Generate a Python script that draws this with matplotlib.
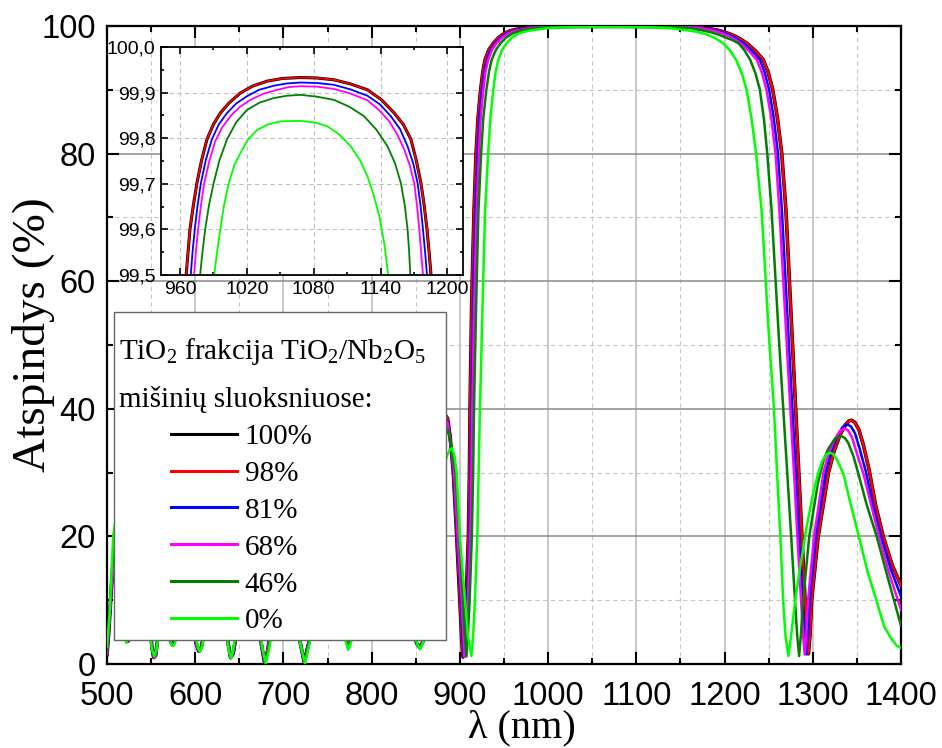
import numpy as np
import matplotlib.pyplot as plt
from matplotlib.patches import Rectangle
from matplotlib.ticker import MultipleLocator, FuncFormatter

plt.rcParams['mathtext.fontset'] = 'custom'
plt.rcParams['mathtext.rm'] = 'Liberation Serif'
plt.rcParams['mathtext.it'] = 'Liberation Serif:italic'

SANS = ['Liberation Sans', 'DejaVu Sans']
SERIF = ['Liberation Serif', 'DejaVu Serif']

# ---- data: (wavelength nm, reflectance %) ----
p_98 = [(500, 1.5), (502, 5), (505, 12), (509, 18), (514, 14), (518, 7), (521, 4.2), (524, 3.6), (528, 6),
        (535, 14), (542, 15), (548, 7), (551, 2.5), (553, 1.0), (555, 1.3), (558, 4.5), (563, 9), (568, 6),
        (572, 3.6), (574, 3.0), (576, 3.4), (579, 6), (585, 14), (592, 16), (598, 7), (601, 3.2), (604, 2.0),
        (607, 2.6), (611, 6), (618, 16), (626, 17), (633, 8), (637, 3.5), (640, 1.0), (643, 1.6), (647, 5),
        (655, 15), (664, 19), (671, 8), (675, 3), (678.5, 0.3), (682, 2), (686, 6), (695, 17), (704, 22),
        (713, 10), (718, 4), (723.5, 0.3), (729, 3.5), (734, 8), (744, 20), (755, 24), (764, 12), (769, 5),
        (773, 3.0), (777, 4), (782, 8), (795, 22), (815, 30), (835, 20), (846, 6), (851, 3.2), (854.5, 2.6),
        (858, 3.5), (863, 9), (870, 22), (876, 34), (881, 39.5), (886, 38.5), (889, 35.5), (892.6, 29.9),
        (896.4, 19.9), (900, 9.9), (902, 4.0), (903.5, 1.1), (905, 3.0), (907, 9.9), (909.6, 19.9),
        (910.8, 29.9), (911.5, 40),
        (913.4, 57), (916, 71), (918.3, 80), (920.5, 85.5), (923.5, 90), (926, 92.8), (928.5, 94.7),
        (933, 96.3), (938, 97.3), (944, 98.2), (950, 98.8), (957, 99.25), (965.5, 99.5), (967.2, 99.55),
        (969, 99.6), (972, 99.652), (975.2, 99.701), (979.5, 99.752), (984.2, 99.797), (990, 99.83),
        (996.2, 99.855), (1004, 99.877), (1014.2, 99.899), (1025, 99.914), (1038.2, 99.925), (1052, 99.931),
        (1068.2, 99.933), (1083, 99.932), (1098.2, 99.928), (1113, 99.919), (1128.3, 99.906), (1141, 99.884),
        (1152.3, 99.855), (1160.5, 99.83), (1167.3, 99.797), (1172, 99.752), (1176.3, 99.701),
        (1179.2, 99.652), (1181.7, 99.6), (1183.6, 99.55), (1185.3, 99.5), (1192, 99.35), (1198.3, 99.1),
        (1205, 98.8), (1212, 98.4), (1218.5, 97.9), (1225.1, 97.3), (1235, 96.1), (1243.9, 94.7),
        (1249.5, 92.7), (1254.6, 90), (1260, 85.5), (1264.8, 80), (1269.6, 71),
        (1277, 50), (1280.5, 40), (1284, 30), (1287.5, 20), (1291.2, 10), (1293.3, 4.5), (1295, 1.6),
        (1296.8, 4.5), (1298.6, 9.9), (1306, 19.9), (1317.6, 29.9), (1324, 33.3), (1330.8, 35.9),
        (1337, 37.5), (1341, 38.1), (1344, 38.2), (1347.5, 37.9), (1352, 36.8), (1357, 34.5),
        (1363.7, 30.5), (1371, 25), (1380, 19.9), (1390, 15.5), (1400, 12.3)]

# the 100 % curve lies right under the 98 % one
p_100 = p_98

p_81 = [(500, 1.6), (502, 5), (505, 12), (509, 18), (514, 14), (518, 7), (521, 4.2), (524, 3.6), (528, 6),
        (535, 14), (542, 15), (548, 7), (551, 2.5), (553.2, 1.1), (555.5, 1.4), (558, 4.5), (563, 9),
        (568, 6), (572, 3.6), (574.2, 3.0), (576.5, 3.4), (579, 6), (585, 14), (592, 16), (598, 7),
        (601, 3.2), (604.3, 2.0), (607, 2.6), (611, 6), (618, 16), (626, 17), (633, 8), (637, 3.5),
        (640.2, 1.0), (643, 1.6), (647, 5), (655, 15), (664, 19), (671, 8), (675, 3), (678.8, 0.3), (682, 2),
        (686, 6), (695, 17), (704, 22), (713, 10), (718, 4), (723.7, 0.3), (729, 3.5), (734, 8), (744, 20),
        (755, 24), (764, 12), (769, 5), (773.2, 3.1), (777, 4), (782, 8), (795, 22), (815, 30), (835, 20),
        (846, 6), (851, 3.2), (854.6, 2.6), (858, 3.5), (863, 9), (870, 22), (876, 33.5), (881, 39),
        (886, 38), (889, 35), (893, 29.9), (897, 19.9), (901, 9.9), (903, 4.0), (904.5, 1.1), (906, 3.5),
        (908, 9.9), (910.8, 19.9), (912, 29.9), (913, 40),
        (915, 57), (917.5, 71), (920, 80), (922, 85.5), (925, 90), (927.5, 92.8), (930.5, 94.7), (935, 96.3),
        (940, 97.3), (946, 98.2), (953, 98.85), (961, 99.25), (969.7, 99.5), (971.3, 99.55), (973.3, 99.6),
        (975.8, 99.652), (978.7, 99.7), (983.2, 99.752), (988.6, 99.797), (994.8, 99.83), (1002.2, 99.855),
        (1010.5, 99.876), (1020.2, 99.892), (1031, 99.906), (1044.2, 99.915), (1056, 99.92), (1068.2, 99.922),
        (1083, 99.921), (1098.2, 99.917), (1113, 99.907), (1128.3, 99.893), (1139.5, 99.874),
        (1149.3, 99.848), (1157.5, 99.82), (1164.3, 99.782), (1169.3, 99.745), (1173.3, 99.701),
        (1175.9, 99.652), (1178.1, 99.6), (1180, 99.55), (1181.7, 99.5), (1188.5, 99.35), (1195, 99.1),
        (1201.5, 98.8), (1208.5, 98.4), (1215, 97.9), (1221.5, 97.3), (1231, 96.1), (1240, 94.7),
        (1245.5, 92.7), (1250.5, 90), (1255.8, 85.5), (1260.5, 80), (1265, 71),
        (1273, 50), (1276.8, 40), (1280.8, 30), (1284.5, 20), (1288.5, 10), (1290.8, 4.5), (1292.7, 1.5),
        (1294.5, 4.5), (1296.5, 10), (1303.5, 20), (1314.5, 30), (1321, 33.3), (1327, 35.5), (1333.5, 37.1),
        (1337, 37.4), (1340, 37.5), (1343.5, 37.2), (1348, 36.1), (1353, 33.8), (1360.4, 30), (1368, 25),
        (1377.4, 20), (1388, 15), (1400, 10.6)]

p_68 = [(500, 1.7), (502, 5), (505, 12), (509, 18), (514, 14), (518, 7), (521, 4.2), (524, 3.6), (528, 6),
        (535, 14), (542, 15), (548, 7), (551, 2.4), (553.3, 1.0), (555.5, 1.4), (558, 4.5), (563, 9),
        (568, 6), (572, 3.5), (574.3, 3.0), (576.5, 3.4), (579, 6), (585, 14), (592, 16), (598, 7),
        (601, 3.1), (604.5, 2.0), (607, 2.6), (611, 6), (618, 16), (626, 17), (633, 8), (637, 3.4),
        (640.3, 1.0), (643, 1.6), (647, 5), (655, 15), (664, 19), (671, 8), (675, 3), (679, 0.3), (682, 2),
        (686, 6), (695, 17), (704, 22), (713, 10), (718, 4), (723.8, 0.3), (729, 3.5), (734, 8), (744, 20),
        (755, 24), (764, 12), (769, 5), (773.3, 3.0), (777, 4), (782, 8), (795, 22), (815, 30), (835, 20),
        (846, 6), (851, 3.1), (854.7, 2.6), (858, 3.5), (863, 9), (870, 21), (876, 33), (881, 38.5),
        (886, 37.8), (889, 35), (893.5, 29.9), (897.5, 19.9), (902, 9.9), (904, 4.0), (905.5, 1.1),
        (907, 3.5), (909, 9.9), (911.8, 19.9), (913, 29.9), (914, 40),
        (916.3, 57), (919, 71), (921.5, 80), (923.5, 85.5), (926.5, 90), (929, 92.8), (932, 94.7),
        (936.5, 96.3), (941.5, 97.3), (948, 98.2), (955, 98.85), (963.5, 99.25), (972.7, 99.5),
        (974.3, 99.55), (976.3, 99.6), (978.8, 99.652), (981.7, 99.7), (986.2, 99.748), (991.6, 99.793),
        (997.8, 99.823), (1005.2, 99.848), (1013.5, 99.868), (1023.2, 99.884), (1034.5, 99.897),
        (1047.2, 99.906), (1057.5, 99.912), (1068.2, 99.914), (1083, 99.913), (1098.2, 99.908),
        (1113, 99.898), (1128.3, 99.883), (1138.5, 99.862), (1147.8, 99.837), (1155, 99.808),
        (1161.3, 99.775), (1166.3, 99.74), (1170.3, 99.701), (1172.7, 99.652), (1174.8, 99.6),
        (1176.5, 99.55), (1178.1, 99.5), (1185, 99.35), (1191.5, 99.1), (1198, 98.8), (1205, 98.4),
        (1211.5, 97.9), (1218, 97.3), (1227.5, 96.1), (1236.5, 94.7), (1242.3, 92.7), (1247.5, 90),
        (1253, 85.5), (1257.8, 80), (1262.2, 71),
        (1270.5, 50), (1274.5, 40), (1278.7, 30), (1282.5, 20), (1286.7, 10), (1289, 4.5), (1290.8, 1.5),
        (1292.6, 4.5), (1294.6, 10), (1301.5, 20), (1312, 30), (1318, 33), (1324, 35), (1330.5, 36.5),
        (1334, 36.8), (1336.6, 36.9), (1340, 36.6), (1344.5, 35.5), (1350, 33), (1358, 29.5), (1366, 25),
        (1375, 20), (1387, 14), (1400, 8.5)]

p_46 = [(500, 2.0), (502, 6), (505, 14), (509, 20), (514, 14), (518, 6.5), (521, 4.0), (523.5, 3.5),
        (527, 6), (535, 15), (542, 14), (548, 6), (551, 2.4), (553.3, 1.2), (555.5, 1.8), (559, 5.5),
        (564, 9), (569, 5), (572.5, 3.3), (574.5, 2.9), (576.5, 3.3), (580, 6), (587, 15), (594, 16),
        (599, 6), (602, 3), (605, 2.0), (607.5, 2.8), (611, 6.5), (619, 17), (627, 16), (634, 6),
        (637.5, 2.6), (640.3, 0.9), (643, 2.0), (647, 5.5), (655, 16), (664, 20), (672, 7), (676, 2.6),
        (679.5, 0.3), (683, 2.4), (687, 6), (696, 18), (705, 23), (714, 9), (718.5, 3.6), (724, 0.3),
        (729, 3.4), (734, 7.5), (745, 21), (756, 24), (765, 11), (769, 4.6), (773.2, 2.5), (777, 4.2),
        (782, 8.5), (795, 23), (815, 30), (835, 19), (846, 6), (851, 3.2), (854.7, 2.5), (858, 3.4),
        (863, 8.5), (870, 20), (877, 31), (882, 35.5), (886.5, 36.7), (890, 34), (895, 29.9), (899.5, 19.9),
        (903.5, 9.9), (905.5, 4.5), (907.5, 1.2), (909, 4.5), (911, 9.9), (913.5, 19.9), (915, 29.9),
        (916, 40),
        (918.5, 57), (921, 71), (924, 80), (926.5, 85.5), (930, 90), (933, 92.8), (936, 94.7), (941, 96.3),
        (946, 97.3), (952.5, 98.2), (960, 98.85), (969, 99.25), (978.1, 99.5), (980.2, 99.55),
        (982.6, 99.599), (986, 99.652), (990.1, 99.7), (995.5, 99.752), (1002.2, 99.797), (1010.5, 99.835),
        (1020.2, 99.862), (1031.5, 99.878), (1044.2, 99.888), (1056, 99.893), (1068.2, 99.895),
        (1083, 99.891), (1098.2, 99.884), (1112, 99.869), (1125.3, 99.848), (1136.5, 99.818),
        (1146.3, 99.782), (1153, 99.745), (1158.3, 99.701), (1161.8, 99.652), (1164.3, 99.599),
        (1165.7, 99.55), (1166.7, 99.5), (1175, 99.3), (1185, 99.0), (1193, 98.65), (1201, 98.2),
        (1208.5, 97.8), (1215.6, 97.3), (1222.5, 96.2), (1229, 94.7), (1235, 92.6), (1240, 90),
        (1244.5, 85.5), (1248.4, 80), (1253.3, 71),
        (1262, 50), (1266.5, 40), (1271, 30), (1275.5, 20), (1279.8, 10), (1282.3, 4.5), (1284.5, 1.25),
        (1286.5, 4.5), (1289, 10), (1296, 20), (1306, 28.5), (1312, 31.8), (1317, 33.6), (1325, 35.3),
        (1329, 35.6), (1332.7, 35.7), (1336.5, 35.4), (1340, 34.7), (1346, 32.6), (1351.5, 29.9),
        (1361, 25), (1372.4, 20), (1386, 13), (1400, 6.0)]

p_0 = [(500, 2.7), (503, 8), (507, 20), (511, 24), (516, 12), (519, 5), (522, 3.3), (525, 5), (530, 12),
       (537, 16), (544, 10), (549, 4), (551.5, 2.0), (553.6, 1.25), (556, 2.2), (560, 6), (566, 8), (571, 4),
       (573, 3.1), (575, 2.8), (577, 3.2), (581, 6), (588, 16), (595, 15), (600, 5), (603, 2.6),
       (605.4, 1.9), (608, 2.8), (612, 7), (620, 18), (628, 16), (635, 5), (638, 2.2), (640.6, 0.9),
       (643, 2.2), (647, 6), (655, 18), (665, 20), (673, 6), (676, 2.5), (680, 0.1), (684, 2.5), (688, 6),
       (697, 20), (706, 24), (715, 8), (719, 3.2), (724.4, 0.1), (729.5, 3.2), (734, 7), (745, 22),
       (756, 25), (765, 10), (769, 4.2), (773.5, 2.2), (778, 4), (783, 9), (795, 24), (815, 30), (835, 18),
       (847, 6), (851.5, 3.2), (854.8, 2.3), (858, 3.2), (863, 8), (870, 17), (878, 28), (885, 32.5),
       (888.5, 33.6), (891.4, 33.8), (894, 32.5), (896.3, 29.9), (900, 19.9), (905.8, 9.9), (909, 4.5),
       (913, 1.25), (915, 4.5), (917, 9.9), (919.7, 19.9), (921.2, 29.9), (922.7, 40),
       (925.8, 57), (928.5, 71), (932, 80), (934.5, 85.5), (937.8, 90), (940.5, 92.8), (943.5, 94.7),
       (948, 96.3), (953, 97.3), (960, 98.3), (968, 98.9), (978, 99.25), (990.7, 99.5), (993.3, 99.55),
       (996.2, 99.6), (999.5, 99.652), (1003.6, 99.7), (1009, 99.742), (1014.2, 99.767), (1021, 99.797),
       (1029.2, 99.818), (1039, 99.83), (1050.2, 99.837), (1068.2, 99.838), (1082, 99.834),
       (1092.3, 99.826), (1103, 99.808), (1113.3, 99.782), (1122, 99.75), (1128.3, 99.716),
       (1134, 99.674), (1139, 99.628), (1143.5, 99.567), (1146.9, 99.5), (1156, 99.35), (1168, 99.1),
       (1178, 98.75), (1188, 98.2), (1198.4, 97.3), (1206, 96.2), (1213, 94.7), (1219.5, 92.6),
       (1225, 90), (1230.5, 85.5), (1235.7, 80), (1242, 71),
       (1250, 52), (1256, 40), (1259.5, 29.9), (1263.3, 19.9), (1266.4, 9.9), (1269, 4.5), (1272.3, 1.25),
       (1275.5, 4.5), (1280, 9.9), (1286, 15.5), (1293, 21.5), (1300, 26.5), (1306, 29.9), (1311, 31.9),
       (1316, 32.9), (1319.6, 33.1), (1323, 32.9), (1327, 32.1), (1334.5, 29.9), (1343, 25),
       (1352.4, 19.9), (1362, 14.5), (1372.3, 9.9), (1381, 5.8), (1389.3, 3.9), (1395, 2.9), (1400, 2.5)]

labels = ['100%', '98%', '81%', '68%', '46%', '0%']
curves = [p_100, p_98, p_81, p_68, p_46, p_0]
colors = ['#000000', '#ff0000', '#0000ff', '#ff00ff', '#007f00', '#00ff00']
widths = [2.6, 1.8, 1.8, 1.8, 1.8, 1.8]

fig = plt.figure(figsize=(9.42, 7.48), dpi=100)
ax = fig.add_axes([0.1136, 0.1123, 0.8429, 0.853])

lines = []
for pts, c, lw, lab in zip(curves, colors, widths, labels):
    x, y = zip(*pts)
    ln, = ax.plot(x, y, color=c, lw=lw, label=lab, zorder=3)
    lines.append(ln)

ax.set_xlim(500, 1400)
ax.set_ylim(0, 100)
ax.xaxis.set_major_locator(MultipleLocator(100))
ax.xaxis.set_minor_locator(MultipleLocator(50))
ax.yaxis.set_major_locator(MultipleLocator(20))
ax.yaxis.set_minor_locator(MultipleLocator(10))
ax.xaxis.grid(True, which='major', color='#bbbbbb', lw=1.1, ls='-')
ax.yaxis.grid(True, which='major', color='#8c8c8c', lw=1.1, ls='-')
ax.grid(True, which='minor', color='#c8c8c8', lw=0.8, ls=(0, (4, 3)))
ax.set_axisbelow(True)
ax.tick_params(which='both', direction='in', top=True, right=True, width=1.5, color='black')
ax.tick_params(which='major', length=8.5, labelsize=23.5)
ax.tick_params(which='minor', length=4.3)
ax.tick_params(axis='x', pad=12)
ax.tick_params(axis='y', pad=8)
for t in ax.get_xticklabels() + ax.get_yticklabels():
    t.set_family(SANS)
for s in ax.spines.values():
    s.set_linewidth(1.6)

ax.set_xlabel('λ (nm)', family=SERIF, fontsize=29)
ax.set_ylabel('Atspindys (%)', family=SERIF, fontsize=34)
ax.xaxis.set_label_coords(0.523, -0.0715)
ax.yaxis.set_label_coords(-0.066, 0.517)

# legend box with the title lines and the series handles
ax.add_patch(Rectangle((0.0088, 0.0376), 0.418, 0.514, transform=ax.transAxes,
                       facecolor='white', edgecolor='#666666', lw=1.0, zorder=5))
ax.text(0.0151, 0.489, r'TiO$_2$ frakcija TiO$_2$/Nb$_2$O$_5$', transform=ax.transAxes,
        family=SERIF, fontsize=21, va='center', ha='left', zorder=6)
ax.text(0.0151, 0.414, 'mišinių sluoksniuose:', transform=ax.transAxes,
        family=SERIF, fontsize=21, va='center', ha='left', zorder=6)
leg = ax.legend(handles=lines, labels=labels, loc='upper left', bbox_to_anchor=(0.0806, 0.377),
                frameon=False, prop={'family': SERIF, 'size': 21}, handlelength=2.25,
                handletextpad=0.28, labelspacing=0.36, borderpad=0, borderaxespad=0)
leg.set_zorder(6)
for h in leg.get_lines():
    h.set_linewidth(2.2)

# inset: top of the stop band
axi = fig.add_axes([0.1709, 0.6324, 0.3206, 0.3048])
for pts, c in zip(curves, colors):
    x, y = zip(*pts)
    axi.plot(x, y, color=c, lw=2.2 if c == '#000000' else 1.3)
axi.set_xlim(943, 1214)
axi.set_ylim(99.5, 100.0)
axi.xaxis.set_major_locator(MultipleLocator(60))
axi.xaxis.set_minor_locator(MultipleLocator(30))
axi.yaxis.set_major_locator(MultipleLocator(0.1))
axi.yaxis.set_minor_locator(MultipleLocator(0.05))
axi.yaxis.set_major_formatter(FuncFormatter(lambda v, p: f'{v:.1f}'.replace('.', ',')))
axi.grid(True, which='major', color='#c0c0c0', lw=0.8, ls=(0, (4, 3)))
axi.tick_params(which='both', direction='in', top=True, right=True, width=1.2)
axi.tick_params(which='major', length=5, labelsize=14, pad=4)
axi.tick_params(which='minor', length=2.5)
for t in axi.get_xticklabels() + axi.get_yticklabels():
    t.set_family(SANS)
for s in axi.spines.values():
    s.set_linewidth(1.3)

fig.savefig('out.png', dpi=100)
